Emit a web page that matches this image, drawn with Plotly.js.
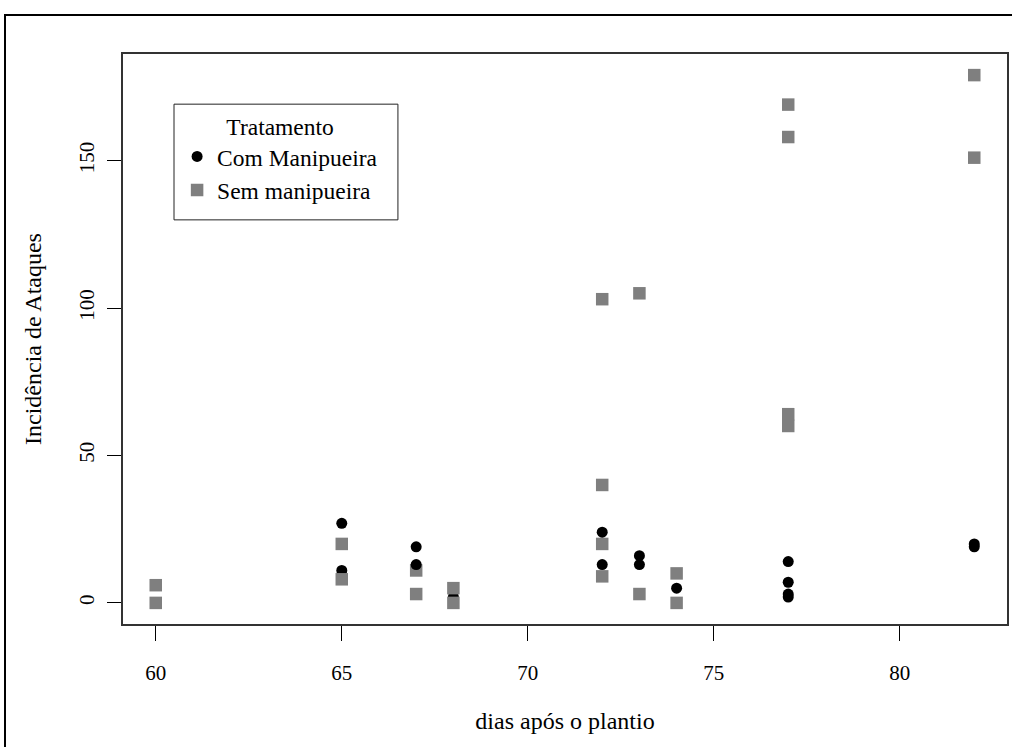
<!DOCTYPE html>
<html>
<head>
<meta charset="utf-8">
<script src="https://cdn.plot.ly/plotly-3.0.1.min.js"></script>
<style>
  html, body { margin: 0; padding: 0; background: #fff; }
  #wrap { position: relative; width: 1012px; height: 747px; overflow: hidden; }
  #frame { position: absolute; left: 4px; top: 14px; width: 1100px; height: 800px; border: 2px solid #000; pointer-events: none; z-index: 2; }
  #chart { position: absolute; left: 0; top: 0; width: 1012px; height: 747px; }
</style>
</head>
<body>
<div id="wrap">
  <div id="chart"></div>
  <div id="frame"></div>
</div>
<script>
// Days after planting and attack incidence, per treatment
const comX = [65, 65, 67, 67, 68, 72, 72, 73, 73, 74, 77, 77, 77, 77, 82, 82];
const comY = [27, 11, 19, 13, 2, 24, 13, 16, 13, 5, 14, 7, 3, 2, 20, 19];
const semX = [60, 60, 65, 65, 67, 67, 68, 68, 72, 72, 72, 72, 73, 73, 74, 74, 77, 77, 77, 77, 82, 82];
const semY = [6, 0, 20, 8, 11, 3, 5, 0, 103, 40, 20, 9, 105, 3, 10, 0, 169, 158, 64, 60, 179, 151];
const xTicks = [60, 65, 70, 75, 80];
const yTicks = [0, 50, 100, 150];
const comName = "Com Manipueira";
const semName = "Sem manipueira";
const legendTitle = "Tratamento";
const xTitle = "dias após o plantio";
const yTitle = "Incidência de Ataques";
// days where the "Com" points were plotted before the "Sem" points
const comDrawnFirstDays = [65, 68];

const FONT = "Liberation Serif, Times New Roman, serif";

function pick(xs, ys, keep) {
  const ox = [], oy = [];
  xs.forEach((x, i) => { if (keep(x)) { ox.push(x); oy.push(ys[i]); } });
  return { x: ox, y: oy };
}
const comFirst = pick(comX, comY, x => comDrawnFirstDays.includes(x));
const comLast = pick(comX, comY, x => !comDrawnFirstDays.includes(x));

const circleMarker = { symbol: "circle", size: 11, color: "#000000", line: { width: 0 } };
const squareMarker = { symbol: "square", size: 12.5, color: "#7f7f7f", line: { width: 0 } };

const traces = [
  { type: "scatter", mode: "markers", x: comFirst.x, y: comFirst.y, marker: circleMarker,
    showlegend: false, hoverinfo: "skip" },
  { type: "scatter", mode: "markers", name: semName, x: semX, y: semY, marker: squareMarker,
    legendrank: 2, hoverinfo: "skip" },
  { type: "scatter", mode: "markers", name: comName, x: comLast.x, y: comLast.y, marker: circleMarker,
    legendrank: 1, hoverinfo: "skip" }
];

const xMin = Math.min(...comX, ...semX), xMax = Math.max(...comX, ...semX);
const yMin = Math.min(...comY, ...semY), yMax = Math.max(...comY, ...semY);
const xPad = (xMax - xMin) * 0.04, yPad = (yMax - yMin) * 0.04;

// legend box (paper fractions of the plot area)
const legBox = { x0: 0.0577, x1: 0.311, y0: 0.709, y1: 0.912 };

const layout = {
  width: 1012, height: 747,
  margin: { l: 123, r: 5, t: 54, b: 123, pad: 0 },
  paper_bgcolor: "rgba(0,0,0,0)",
  plot_bgcolor: "#ffffff",
  font: { family: FONT, color: "#000", size: 21 },
  showlegend: true,
  legend: {
    x: legBox.x0 + 0.0035, y: legBox.y1, xanchor: "left", yanchor: "top",
    bgcolor: "rgba(0,0,0,0)", borderwidth: 0,
    font: { family: FONT, size: 23.5, color: "#000" },
    title: { text: legendTitle, side: "top center", font: { family: FONT, size: 23.5, color: "#000" } },
    traceorder: "normal",
    itemsizing: "trace",
    tracegroupgap: 0
  },
  shapes: [
    { type: "rect", xref: "paper", yref: "paper", layer: "above",
      x0: legBox.x0, x1: legBox.x1, y0: legBox.y0, y1: legBox.y1,
      fillcolor: "#ffffff", line: { color: "#222", width: 1 } }
  ],
  xaxis: {
    range: [xMin - xPad, xMax + xPad],
    tickvals: xTicks, ticktext: xTicks.map(String),
    ticks: "outside", ticklen: 15, tickwidth: 1, tickcolor: "#000",
    showgrid: false, zeroline: false,
    showline: true, mirror: true, linecolor: "#333", linewidth: 2,
    tickfont: { family: FONT, size: 21, color: "#000" },
    ticklabelstandoff: 14,
    title: { text: xTitle, font: { family: FONT, size: 24, color: "#000" }, standoff: 28 },
    automargin: false, fixedrange: true
  },
  yaxis: {
    range: [yMin - yPad, yMax + yPad],
    tickvals: yTicks, ticktext: yTicks.map(String),
    ticks: "outside", ticklen: 14, tickwidth: 1, tickcolor: "#000",
    tickangle: -90,
    showgrid: false, zeroline: false,
    showline: true, mirror: true, linecolor: "#333", linewidth: 2,
    tickfont: { family: FONT, size: 21, color: "#000" },
    ticklabelstandoff: 5,
    title: { text: yTitle, font: { family: FONT, size: 24, color: "#000" }, standoff: 26 },
    automargin: false, fixedrange: true
  }
};

Plotly.newPlot("chart", traces, layout, { staticPlot: true, displayModeBar: false });
</script>
</body>
</html>
